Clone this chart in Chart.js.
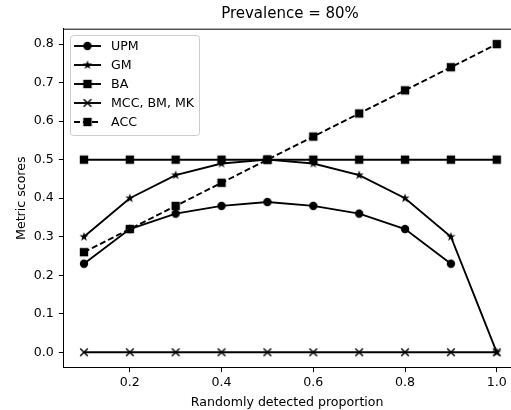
<!DOCTYPE html>
<html>
<head>
<meta charset="utf-8">
<script src="https://cdn.jsdelivr.net/npm/chart.js@4/dist/chart.umd.min.js"></script>
<style>
  html, body { margin: 0; padding: 0; background: #fff; overflow: hidden; }
  #wrap { width: 511px; height: 410px; }
</style>
</head>
<body>
<div id="wrap"><canvas id="metricChart" width="511" height="410"></canvas></div>
<script>
// Randomly detected proportion (x) and metric scores at prevalence 80%
const proportions = [0.1, 0.2, 0.3, 0.4, 0.5, 0.6, 0.7, 0.8, 0.9, 1.0];
const upmScores = [0.23, 0.32, 0.36, 0.38, 0.39, 0.38, 0.36, 0.32, 0.23, null];
const gmScores = [0.30, 0.40, 0.46, 0.49, 0.50, 0.49, 0.46, 0.40, 0.30, 0.00];
const baScores = [0.50, 0.50, 0.50, 0.50, 0.50, 0.50, 0.50, 0.50, 0.50, 0.50];
const mccScores = [0.00, 0.00, 0.00, 0.00, 0.00, 0.00, 0.00, 0.00, 0.00, 0.00];
const accScores = [0.26, 0.32, 0.38, 0.44, 0.50, 0.56, 0.62, 0.68, 0.74, 0.80];

const xTicks = [0.2, 0.4, 0.6, 0.8, 1.0];
const yTicks = [0.0, 0.1, 0.2, 0.3, 0.4, 0.5, 0.6, 0.7, 0.8];

const FONT = 'DejaVu Sans';
const TEXT_SIZE = 12.6;
Chart.defaults.font.family = FONT;
Chart.defaults.color = '#000';

// small marker images, shared by the lines and the legend
function makeMarker(shape) {
  const c = document.createElement('canvas');
  c.width = 14;
  c.height = 14;
  const g = c.getContext('2d');
  g.translate(7, 7);
  g.fillStyle = '#000';
  g.strokeStyle = '#000';
  if (shape === 'circle') {
    g.beginPath();
    g.arc(0, 0, 4.2, 0, Math.PI * 2);
    g.fill();
  } else if (shape === 'square') {
    g.fillRect(-4.2, -4.2, 8.4, 8.4);
  } else if (shape === 'star') {
    g.beginPath();
    for (let i = 0; i < 10; i++) {
      const r = i % 2 === 0 ? 4.8 : 1.9;
      const a = -Math.PI / 2 + i * Math.PI / 5;
      g.lineTo(r * Math.cos(a), r * Math.sin(a));
    }
    g.closePath();
    g.fill();
  } else if (shape === 'x') {
    g.lineWidth = 1.5;
    g.beginPath();
    g.moveTo(-3.8, -3.8); g.lineTo(3.8, 3.8);
    g.moveTo(-3.8, 3.8); g.lineTo(3.8, -3.8);
    g.stroke();
  }
  return c;
}

function series(label, data, shape, dash, order) {
  return {
    label: label,
    data: data.map((v, i) => ({ x: proportions[i], y: v })),
    borderColor: '#000',
    backgroundColor: '#000',
    borderWidth: 1.9,
    borderDash: dash,
    pointStyle: makeMarker(shape),
    pointRadius: 5,
    pointHoverRadius: 5,
    tension: 0,
    fill: false,
    spanGaps: false,
    order: order,
  };
}

// title centred over the plot area, top spine and the boxed legend
const framePlugin = {
  id: 'frame',
  afterDraw(chart) {
    const ctx = chart.ctx;
    const a = chart.chartArea;
    ctx.save();
    ctx.strokeStyle = '#000';
    ctx.lineWidth = 1;
    ctx.beginPath();
    ctx.moveTo(a.left, a.top + 0.5);
    ctx.lineTo(a.right, a.top + 0.5);
    ctx.stroke();

    ctx.font = '15px "' + FONT + '"';
    ctx.fillStyle = '#000';
    ctx.textAlign = 'center';
    ctx.textBaseline = 'middle';
    ctx.fillText('Prevalence = 80%', 290, 14);

    // legend box
    const bx = 70.5, by = 35.5, bw = 129, bh = 100, r = 3;
    ctx.beginPath();
    ctx.moveTo(bx + r, by);
    ctx.arcTo(bx + bw, by, bx + bw, by + bh, r);
    ctx.arcTo(bx + bw, by + bh, bx, by + bh, r);
    ctx.arcTo(bx, by + bh, bx, by, r);
    ctx.arcTo(bx, by, bx + bw, by, r);
    ctx.closePath();
    ctx.fillStyle = 'rgba(255,255,255,0.8)';
    ctx.fill();
    ctx.strokeStyle = '#cccccc';
    ctx.lineWidth = 1;
    ctx.stroke();

    ctx.font = TEXT_SIZE + 'px "' + FONT + '"';
    ctx.textAlign = 'left';
    chart.data.datasets.forEach((ds, i) => {
      const y = 46 + i * 19;
      ctx.strokeStyle = '#000';
      ctx.lineWidth = ds.borderWidth;
      ctx.setLineDash(ds.borderDash || []);
      ctx.beginPath();
      ctx.moveTo(74, y);
      ctx.lineTo(101, y);
      ctx.stroke();
      ctx.setLineDash([]);
      const m = ds.pointStyle;
      ctx.drawImage(m, 87.5 - m.width / 2, y - m.height / 2);
      ctx.fillStyle = '#000';
      ctx.fillText(ds.label, 111, y + 1);
    });
    ctx.restore();
  },
};

new Chart(document.getElementById('metricChart').getContext('2d'), {
  type: 'line',
  data: {
    datasets: [
      series('UPM', upmScores, 'circle', [], 5),
      series('GM', gmScores, 'star', [], 4),
      series('BA', baScores, 'square', [], 3),
      series('MCC, BM, MK', mccScores, 'x', [], 2),
      series('ACC', accScores, 'square', [6, 3], 1),
    ],
  },
  options: {
    responsive: false,
    animation: false,
    events: [],
    layout: { autoPadding: false, padding: { top: 28.7, left: 0, right: 0, bottom: 0 } },
    plugins: {
      legend: { display: false },
      title: { display: false },
      tooltip: { enabled: false },
    },
    scales: {
      x: {
        type: 'linear',
        min: 0.055,
        max: 1.031,
        afterBuildTicks: (scale) => { scale.ticks = xTicks.map(v => ({ value: v })); },
        afterFit: (scale) => {
          scale.height = 42.3;
          scale.paddingLeft = 0;
          scale.paddingRight = 0;
        },
        grid: { drawOnChartArea: false, drawTicks: true, tickLength: 4.5, tickColor: '#000', tickWidth: 1 },
        border: { display: true, color: '#000', width: 1 },
        ticks: {
          font: { size: TEXT_SIZE },
          color: '#000',
          padding: 3,
          maxRotation: 0,
          callback: (v) => Number(v).toFixed(1),
        },
        title: {
          display: true,
          text: 'Randomly detected proportion',
          font: { size: TEXT_SIZE },
          color: '#000',
          padding: { top: 4.4, bottom: 0 },
        },
      },
      y: {
        type: 'linear',
        min: -0.04,
        max: 0.84,
        afterBuildTicks: (scale) => { scale.ticks = yTicks.map(v => ({ value: v })); },
        afterFit: (scale) => {
          scale.width = 63.3;
          scale.paddingTop = 0;
          scale.paddingBottom = 0;
        },
        grid: { drawOnChartArea: false, drawTicks: true, tickLength: 4.5, tickColor: '#000', tickWidth: 1 },
        border: { display: true, color: '#000', width: 1 },
        ticks: {
          font: { size: TEXT_SIZE },
          color: '#000',
          padding: 5,
          callback: (v) => Number(v).toFixed(1),
        },
        title: {
          display: true,
          text: 'Metric scores',
          font: { size: TEXT_SIZE },
          color: '#000',
          padding: { top: 13.9, bottom: 0 },
        },
      },
    },
  },
  plugins: [framePlugin],
});
</script>
</body>
</html>
